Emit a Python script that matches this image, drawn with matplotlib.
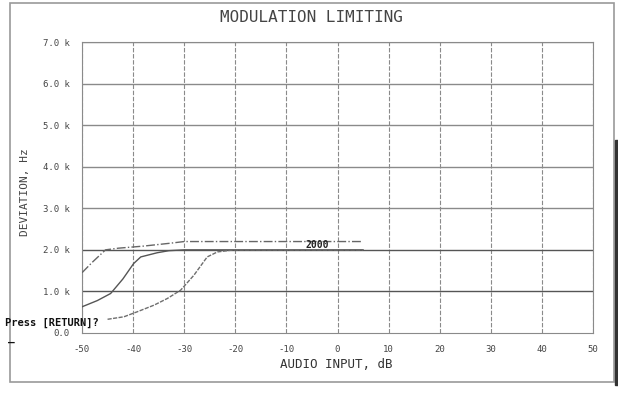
import matplotlib
matplotlib.use('Agg')
import matplotlib.pyplot as plt
from matplotlib.patches import Rectangle

# curves (x in dB, y in Hz)
fast_x = [-50, -48, -45.4, -42.9, -38, -32.7, -30, -20, -10, 0, 5]
fast_y = [1450, 1700, 2000, 2040, 2090, 2160, 2200, 2200, 2200, 2200, 2200]

mid_x = [-50, -47, -44.4, -42, -39.9, -38.5, -35.3, -33, -30, -20, -10, 0, 5]
mid_y = [630, 780, 950, 1300, 1670, 1830, 1930, 1980, 2000, 2000, 2000, 2000, 2000]

slow_x = [-45, -41.8, -39.2, -35.9, -33.3, -30.7, -28.1, -25.5, -23.5, -20.3, -10, 0, 5]
slow_y = [330, 390, 510, 670, 830, 1030, 1390, 1830, 1950, 2000, 2000, 2000, 2000]

x_ticks = [-50, -40, -30, -20, -10, 0, 10, 20, 30, 40, 50]
y_ticks = [0, 1000, 2000, 3000, 4000, 5000, 6000, 7000]
y_labels = ['0.0', '1.0 k', '2.0 k', '3.0 k', '4.0 k', '5.0 k', '6.0 k', '7.0 k']

mono = 'DejaVu Sans Mono'
grey = '#8a8a8a'

fig = plt.figure(figsize=(6.18, 3.95), dpi=100)
ax = fig.add_axes([82 / 618, 1 - 333 / 395, (593 - 82) / 618, (333 - 42) / 395])

# outer frame of the printout and the dark scan edge on the right
fig.patches.append(Rectangle((10 / 618, 1 - 382 / 395), 604 / 618, 379 / 395,
                             transform=fig.transFigure, fill=False,
                             edgecolor='#9a9a9a', lw=1.2))
fig.patches.append(Rectangle((615 / 618, 1 - 385 / 395), 3 / 618, 245 / 395,
                             transform=fig.transFigure, color='#333333'))

ax.set_xlim(-50, 50)
ax.set_ylim(0, 7000)
for x in x_ticks:
    ax.axvline(x, color=grey, lw=0.8, ls=(0, (4, 1.5)), zorder=1)
for y in y_ticks[1:]:
    c = '#555555' if y in (1000, 2000) else grey
    ax.axhline(y, color=c, lw=1.0, zorder=1)

ax.plot(fast_x, fast_y, color='#666666', lw=1.0, ls='-.', zorder=3)
ax.plot(mid_x, mid_y, color='#555555', lw=1.0, zorder=3)
ax.plot(slow_x, slow_y, color='#6e6e6e', lw=1.0, ls=(0, (3, 1)), zorder=3)

ax.text(-3.9, 2110, '2000', fontsize=7, fontweight='bold', family=mono,
        ha='center', va='center', color='#222222', zorder=4)

for s in ax.spines.values():
    s.set_color(grey)
ax.tick_params(length=0, pad=9)
ax.set_xticks(x_ticks)
ax.set_xticklabels([str(v) for v in x_ticks], family=mono, fontsize=6.5, color='#444444')
ax.set_yticks(y_ticks)
ax.set_yticklabels(y_labels, family=mono, fontsize=6.5, color='#444444')

fig.text(311 / 618, 1 - 17 / 395, 'MODULATION LIMITING', family=mono,
         fontsize=11.5, ha='center', va='center', color='#444444')
fig.text(336 / 618, 1 - 365 / 395, 'AUDIO INPUT, dB', family=mono,
         fontsize=9, ha='center', va='center', color='#333333')
fig.text(25 / 618, 1 - 192 / 395, 'DEVIATION, Hz', family=mono, rotation=90,
         fontsize=8, ha='center', va='center', color='#444444')

fig.text(5 / 618, 1 - 323 / 395, 'Press [RETURN]?', family=mono,
         fontsize=7.5, fontweight='bold', ha='left', va='center', color='#111111')
fig.text(8 / 618, 1 - 343 / 395, '_', family=mono, fontsize=8,
         fontweight='bold', ha='left', va='bottom', color='#111111')

fig.savefig('out.png', dpi=100)
